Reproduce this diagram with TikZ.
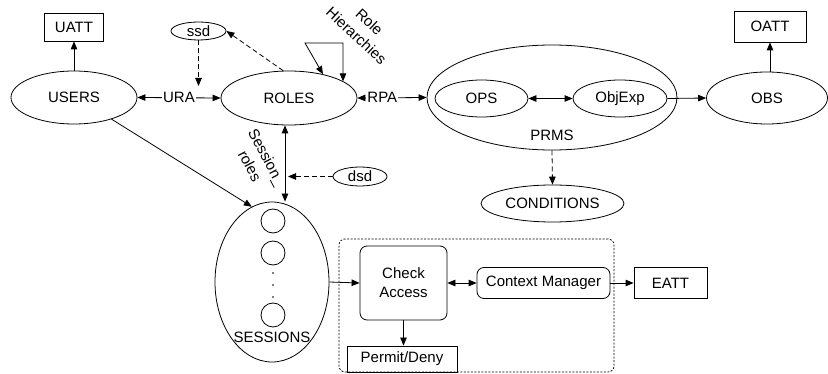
\documentclass[tikz,border=0pt]{standalone}
\usepackage{fontspec}
\setmainfont{Liberation Sans}
\usetikzlibrary{shapes.geometric,arrows.meta}
\begin{document}
\begin{tikzpicture}[x=1pt,y=-1pt,
  every node/.style={font=\fontsize{15}{19}\selectfont, inner sep=0pt},
  ell/.style={draw, ellipse, line width=0.8pt},
  box/.style={draw, rectangle, line width=0.8pt},
  rbox/.style={draw, rectangle, rounded corners=7pt, line width=0.8pt},
  conn/.style={line width=0.8pt, -{Triangle[length=8pt,width=6.5pt]}},
  bconn/.style={line width=0.8pt, {Triangle[length=8pt,width=6.5pt]}-{Triangle[length=8pt,width=6.5pt]}},
  dconn/.style={conn, dash pattern=on 5pt off 3pt},
  lbl/.style={fill=white, inner sep=1pt},
  dotnode/.style={circle, fill, minimum size=1.8pt, inner sep=0pt},
  smallc/.style={draw, circle, minimum size=24pt, line width=0.8pt}
]
\useasboundingbox (0,0) rectangle (828,374);

% container
\node[draw, rounded corners=6pt, dash pattern=on 2pt off 1.5pt, line width=0.7pt,
      minimum width=275pt, minimum height=133pt] (env) at (476.5,305.5) {};

\node[box, minimum width=59pt, minimum height=28pt] (UATT) at (74,27) {UATT};
\node[ell, minimum width=126pt, minimum height=53pt] (USERS) at (74,97.5) {USERS};
\node[ell, minimum width=55pt, minimum height=18pt] (ssd) at (198.5,31) {ssd};
\node[ell, minimum width=136pt, minimum height=54pt] (ROLES) at (289,98) {ROLES};
\node[ell, minimum width=250pt, minimum height=105pt] (PRMS) at (552,97.5) {};
\node (prmslbl) at (552,135) {PRMS};
\node[ell, minimum width=93pt, minimum height=37pt] (OPS) at (481.5,98.5) {OPS};
\node[ell, minimum width=94pt, minimum height=37pt] (ObjExp) at (620,98.5) {ObjExp};
\node[ell, minimum width=121pt, minimum height=52pt] (OBS) at (767,98) {OBS};
\node[box, minimum width=72pt, minimum height=31pt] (OATT) at (770,26.5) {OATT};
\node[ell, minimum width=143pt, minimum height=37pt] (COND) at (552.5,203.5) {CONDITIONS};
\node[ell, minimum width=54pt, minimum height=19pt] (dsd) at (360,176.5) {dsd};

\node[ell, minimum width=114pt, minimum height=160pt] (SESS) at (272,282) {};
\node[smallc] (s1) at (273,221) {};
\node[smallc] (s2) at (273,253) {};
\node[dotnode] (d1) at (273,273) {};
\node[dotnode] (d2) at (273,285) {};
\node[dotnode] (d3) at (273,297) {};
\node[smallc] (s3) at (273,315) {};
\node (sesslbl) at (272,337) {SESSIONS};

\node[rbox, minimum width=87pt, minimum height=74pt, align=center] (check) at (403.5,283) {Check\\Access};
\node[rbox, minimum width=133pt, minimum height=31pt] (ctxm) at (543.5,283) {Context Manager};
\node[box, minimum width=73pt, minimum height=31pt] (EATT) at (670.5,283) {EATT};
\node[box, minimum width=110pt, minimum height=26pt] (permit) at (402,359) {Permit/Deny};

% labels
\node[align=center, rotate=-43] (rhl) at (363,29) {Role\\Hierarchies};
\node[align=center, rotate=-62] (srl) at (258.5,161.5) {Session\_\\roles};

% connectors
\draw[conn] (USERS.north) -- (UATT.south);
\draw[bconn] (USERS.east) -- node[lbl]{URA} (ROLES.west);
\coordinate (ura) at (198.5,86);
\draw[dconn] (ssd.south) -- (ura);
\draw[dconn] (ROLES.102) -- (ssd.east);
\coordinate (rh1) at (305,43);
\coordinate (rh2) at (343,43);
\draw[bconn] (ROLES.35) -- (rh1) -- (rh2) -- (rh2 |- ROLES.17);
\draw[bconn] (ROLES.east) -- node[lbl, pos=0.36]{RPA} (PRMS.west);
\draw[bconn] (OPS.east) -- (ObjExp.west);
\draw[conn] (ObjExp.east) -- (OBS.west);
\draw[conn] (OATT.south |- OBS.north) -- (OATT.south);
\draw[dconn] (PRMS.south) -- (COND.north);
\coordinate (srx) at (285,0);
\draw[bconn] (srx |- ROLES.south) -- (srx |- SESS.north);
\draw[dconn] (dsd.west) -- ([xshift=3pt]srx |- dsd.west);
\draw[conn] (USERS.-30) -- (SESS.105);
\draw[conn] (SESS.east) -- (check.west);
\draw[bconn] (check.east) -- (ctxm.west);
\draw[conn] (ctxm.east) -- (EATT.west);
\draw[conn] (check.south) -- (check.south |- permit.north);
\end{tikzpicture}
\end{document}
